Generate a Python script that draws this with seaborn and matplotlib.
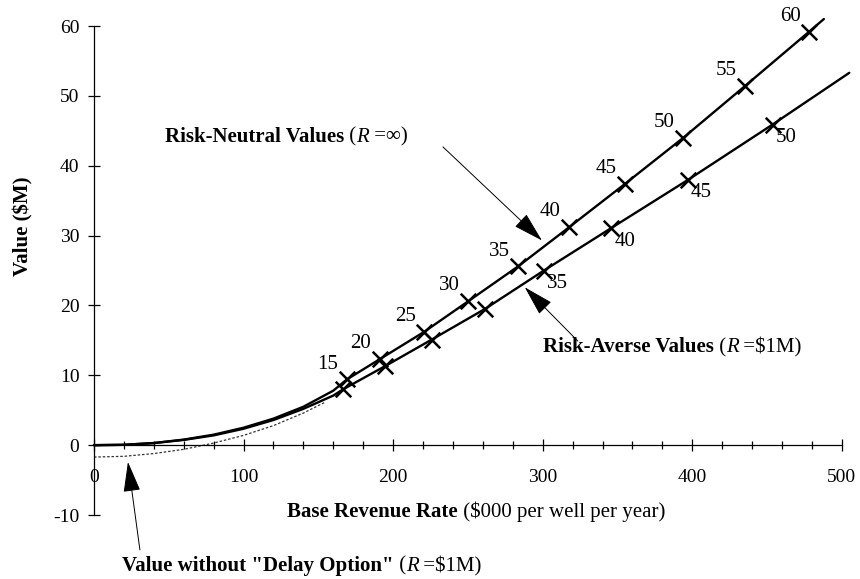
"""Value of the development project vs base revenue rate, risk-neutral vs risk-averse."""
import matplotlib
matplotlib.use("Agg")
import matplotlib.pyplot as plt
from matplotlib.ticker import MultipleLocator
import pandas as pd
import seaborn as sns

# ---- data ----------------------------------------------------------------- #
# risk-neutral curve (R = inf)
neutral_x = [0, 20, 40, 60, 80, 100, 120, 140, 160, 169, 191, 220.6, 250.2,
             283.6, 317.7, 355, 394, 435.2, 478.2, 488]
neutral_y = [0, 0.05, 0.3, 0.8, 1.5, 2.5, 3.8, 5.5, 7.8, 9.4, 12.3, 16.2, 20.6,
             25.6, 31.2, 37.4, 44.0, 51.4, 59.2, 61.0]
# risk-averse curve (R = $1M)
averse_x = [0, 20, 40, 60, 80, 100, 120, 140, 160, 166.6, 194.5, 225.7, 261.4,
            300.8, 346, 397.3, 453.7, 505]
averse_y = [0, 0.05, 0.3, 0.75, 1.4, 2.35, 3.6, 5.2, 7.1, 8.0, 11.3, 15.1, 19.5,
            25.0, 31.1, 38.0, 45.9, 53.3]
# value without the delay option (dotted)
nodelay_x = [0, 20, 40, 60, 80, 100, 120, 140, 155]
nodelay_y = [-1.7, -1.6, -1.2, -0.6, 0.3, 1.4, 2.8, 4.6, 6.2]

# labelled points on each curve
neutral_mark_lbl = [15, 20, 25, 30, 35, 40, 45, 50, 55, 60]
neutral_mark_x = [169, 191, 220.6, 250.2, 283.6, 317.7, 355, 394, 435.2, 478.2]
neutral_mark_y = [9.4, 12.3, 16.2, 20.6, 25.6, 31.2, 37.4, 44.0, 51.4, 59.2]
averse_mark_lbl = [15, 20, 25, 30, 35, 40, 45, 50]
averse_mark_x = [166.6, 194.5, 225.7, 261.4, 300.8, 346, 397.3, 453.7]
averse_mark_y = [8.0, 11.3, 15.1, 19.5, 25.0, 31.1, 38.0, 45.9]
averse_labelled = [35, 40, 45, 50]

x_ticks = [0, 100, 200, 300, 400, 500]
y_ticks = [-10, 0, 10, 20, 30, 40, 50, 60]

sns.set_theme(style="white")
plt.rcParams["font.family"] = ["Liberation Serif", "DejaVu Serif"]
plt.rcParams["text.color"] = "black"
plt.rcParams["axes.unicode_minus"] = False

fig = plt.figure(figsize=(8.6, 5.79), dpi=100)
ax = fig.add_axes([0.1093, 0.1105, 0.880, 0.8687])

curves = pd.concat([
    pd.DataFrame({"x": neutral_x, "y": neutral_y, "curve": "neutral"}),
    pd.DataFrame({"x": averse_x, "y": averse_y, "curve": "averse"}),
])
for name, grp in curves.groupby("curve"):
    sns.lineplot(data=grp, x="x", y="y", ax=ax, color="black", lw=1.7,
                 sort=False, clip_on=False)
sns.lineplot(x=nodelay_x, y=nodelay_y, ax=ax, color="#333333", lw=0.9,
             sort=False, linestyle=(0, (2, 1.5)))

marks = pd.DataFrame({"x": neutral_mark_x + averse_mark_x,
                      "y": neutral_mark_y + averse_mark_y})
sns.scatterplot(data=marks, x="x", y="y", ax=ax, marker="x", s=125,
                color="black", linewidth=1.8, zorder=4)

for lbl, mx, my in zip(neutral_mark_lbl, neutral_mark_x, neutral_mark_y):
    ax.annotate(str(lbl), (mx, my), xytext=(-13.5, 11), textcoords="offset points",
                ha="center", va="center", fontsize=15)
for lbl, mx, my in zip(averse_mark_lbl, averse_mark_x, averse_mark_y):
    if lbl in averse_labelled:
        ax.annotate(str(lbl), (mx, my), xytext=(9.5, -9.5), textcoords="offset points",
                    ha="center", va="center", fontsize=15)


def rich_text(ax, x, y, pieces, size=15):
    """Draw text pieces of mixed weight/style one after another."""
    prev = None
    for text, weight, style in pieces:
        kw = dict(fontsize=size, fontweight=weight, fontstyle=style,
                  va="center", ha="left")
        if prev is None:
            prev = ax.text(x, y, text, clip_on=False, **kw)
        else:
            prev = ax.annotate(text, xy=(1, 0.5), xycoords=prev,
                               annotation_clip=False, **kw)
    return prev


arrow = dict(arrowstyle="-|>,head_length=1.6,head_width=0.45",
             color="black", lw=0.7, shrinkA=0, shrinkB=0)
rich_text(ax, 47.5, 44.1, [("Risk-Neutral Values", "bold", "normal"),
                           (" (", "normal", "normal"), ("R", "normal", "italic"),
                           (" =\u221e)", "normal", "normal")])
ax.annotate("", xy=(299.5, 29.3), xytext=(233.3, 42.7), arrowprops=arrow)

rich_text(ax, 300, 14.0, [("Risk-Averse Values", "bold", "normal"),
                          (" (", "normal", "normal"), ("R", "normal", "italic"),
                          (" =\\$1M)", "normal", "normal")])
ax.annotate("", xy=(288, 22.6), xytext=(323.5, 14.9), arrowprops=arrow)

rich_text(ax, 18.7, -17.3, [("Value without \"Delay Option\"", "bold", "normal"),
                            (" (", "normal", "normal"), ("R", "normal", "italic"),
                            (" =\\$1M)", "normal", "normal")])
ax.annotate("", xy=(22.7, -2.4), xytext=(30.7, -15.0), arrowprops=arrow,
            annotation_clip=False)

rich_text(ax, 129, -9.6, [("Base Revenue Rate", "bold", "normal"),
                          (" (\\$000 per well per year)", "normal", "normal")])
fig.text(23 / 860, 1 - 226 / 579, "Value (\\$M)", rotation=90, fontsize=15,
         fontweight="bold", ha="center", va="center")

# ---- axes -------------------------------------------------------------------- #
ax.set_xlim(0, 506)
ax.set_ylim(-10, 62)
ax.set_xlabel("")
ax.set_ylabel("")
ax.set_xticks(x_ticks)
ax.set_yticks(y_ticks)
ax.xaxis.set_minor_locator(MultipleLocator(20))
for side in ("top", "right"):
    ax.spines[side].set_visible(False)
ax.spines["bottom"].set_position(("data", 0))
ax.spines["bottom"].set_bounds(0, 500)
ax.spines["left"].set_bounds(-10, 60)
for side in ("left", "bottom"):
    ax.spines[side].set_color("black")
    ax.spines[side].set_linewidth(0.9)
ax.tick_params(axis="both", which="major", direction="inout", length=9,
               width=0.9, labelsize=14, colors="black")
ax.tick_params(axis="x", which="minor", direction="inout", length=6, width=0.9,
               bottom=True, colors="black")
ax.tick_params(axis="x", which="major", pad=13, bottom=True)
ax.tick_params(axis="y", which="major", pad=6, left=True)
ax.set_facecolor("white")

fig.savefig("out.png", dpi=100, facecolor="white")
